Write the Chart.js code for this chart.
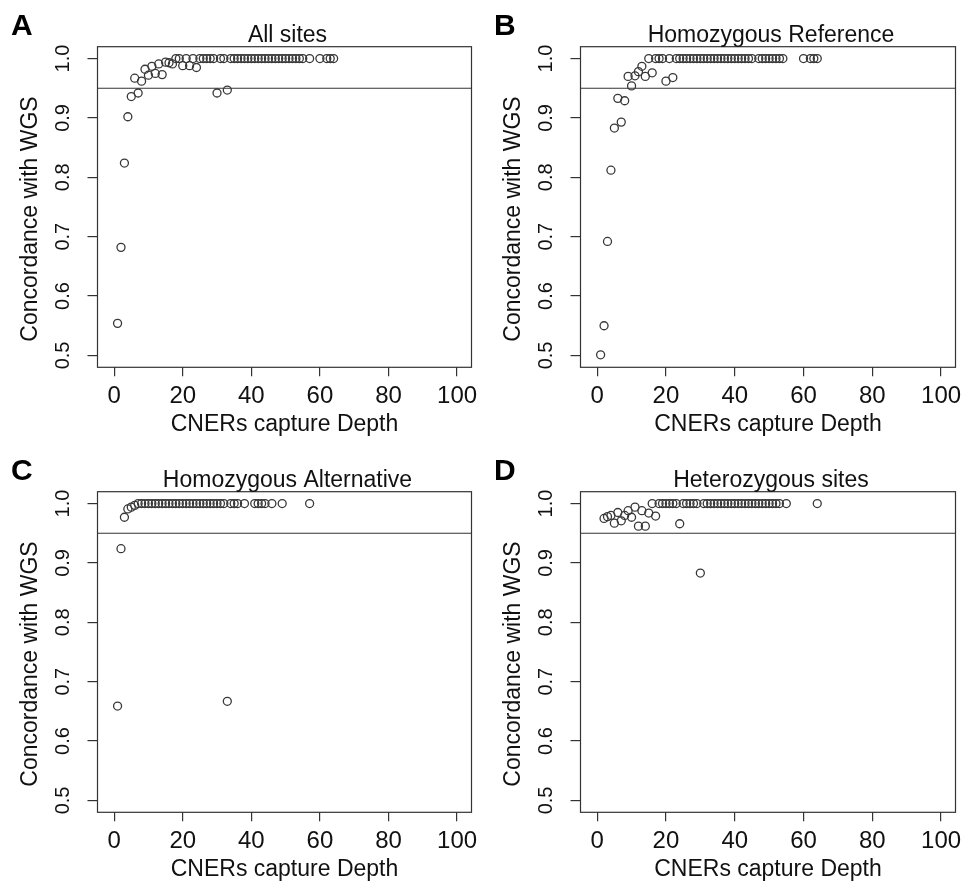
<!DOCTYPE html>
<html><head><meta charset="utf-8">
<script src="https://cdn.jsdelivr.net/npm/chart.js@4.4.1/dist/chart.umd.min.js"></script>
<style>
html,body{margin:0;padding:0;background:#fff;}
#wrap{position:relative;width:967px;height:886px;overflow:hidden;background:#fff;}
canvas{position:absolute;}
</style></head><body><div id="wrap">
<canvas id="cA"></canvas><canvas id="cB"></canvas><canvas id="cC"></canvas><canvas id="cD"></canvas>
</div>
<script>
// ---------------- data ----------------
const panelLetters = ["A", "B", "C", "D"];
const panelTitles = ["All sites", "Homozygous Reference", "Homozygous Alternative", "Heterozygous sites"];
const xTitle = "CNERs capture Depth";
const yTitle = "Concordance with WGS";
const xTicks = [0, 20, 40, 60, 80, 100];
const yTicks = [0.5, 0.6, 0.7, 0.8, 0.9, 1.0];
const xLimits = [-4.85, 104.2];
const yLimits = [0.48, 1.02];
const threshold = 0.95;

const depthA = [1,2,3,4,5,6,7,8,9,10,11,12,13,14,15,16,17,18,19,20,21,22,23,24,25,26,27,28,29,30,31,32,33,34,35,36,37,38,39,40,41,42,43,44,45,46,47,48,49,50,51,52,53,54,55,57,60,62,63,64];
const concA  = [0.554,0.682,0.824,0.902,0.936,0.967,0.942,0.962,0.982,0.972,0.987,0.975,0.991,0.973,0.994,0.993,0.991,1,1,0.988,1,0.988,1,0.985,1,1,1,1,1,0.942,1,1,0.947,1,1,1,1,1,1,1,1,1,1,1,1,1,1,1,1,1,1,1,1,1,1,1,1,1,1,1];

const depthB = [1,2,3,4,5,6,7,8,9,10,11,12,13,14,15,16,17,18,19,20,21,22,23,24,25,26,27,28,29,30,31,32,33,34,35,36,37,38,39,40,41,42,43,44,45,47,48,49,50,51,52,53,54,60,62,63,64];
const concB  = [0.501,0.550,0.692,0.812,0.883,0.933,0.893,0.929,0.970,0.954,0.971,0.978,0.987,0.970,1,0.976,1,1,1,0.962,1,0.968,1,1,1,1,1,1,1,1,1,1,1,1,1,1,1,1,1,1,1,1,1,1,1,1,1,1,1,1,1,1,1,1,1,1,1];

const depthC = [1,2,3,4,5,6,7,8,9,10,11,12,13,14,15,16,17,18,19,20,21,22,23,24,25,26,27,28,29,30,31,32,33,34,35,36,38,41,42,43,44,46,49,57];
const concC  = [0.659,0.924,0.977,0.991,0.994,0.997,1,1,1,1,1,1,1,1,1,1,1,1,1,1,1,1,1,1,1,1,1,1,1,1,1,1,0.667,1,1,1,1,1,1,1,1,1,1,1];

const depthD = [2,3,4,5,6,7,8,9,10,11,12,13,14,15,16,17,18,19,20,21,22,23,24,25,26,27,28,29,30,31,32,33,34,35,36,37,38,39,40,41,42,43,44,45,46,47,48,49,50,51,52,53,55,64];
const concD  = [0.975,0.978,0.980,0.967,0.985,0.971,0.980,0.988,0.977,0.994,0.962,0.988,0.962,0.984,1,0.979,1,1,1,1,1,1,0.966,1,1,1,1,1,0.883,1,1,1,1,1,1,1,1,1,1,1,1,1,1,1,1,1,1,1,1,1,1,1,1,1];

const seriesDepth = [depthA, depthB, depthC, depthD];
const seriesConc = [concA, concB, concC, concD];

// ---------------- layout / style ----------------
const FONT = '"Liberation Sans", Arial, Helvetica, sans-serif';
Chart.defaults.font.family = FONT;
const INK = '#111111';
const LINE = '#333333';
const canvases = [
  {id: 'cA', x: 0,   y: 0,   w: 483, h: 445},
  {id: 'cB', x: 483, y: 0,   w: 484, h: 445},
  {id: 'cC', x: 0,   y: 445, w: 483, h: 441},
  {id: 'cD', x: 483, y: 445, w: 484, h: 441}
];
const plotBox = {left: 97.5, top: 46.7, right: 475.7, bottom: 367.3};
const xAxisHeight = 71.5;

const decor = {
  id: 'decor',
  afterDraw(chart, args, opts) {
    const {ctx, chartArea: a} = chart;
    ctx.save();
    ctx.strokeStyle = LINE;
    ctx.lineWidth = 1.2;
    ctx.strokeRect(a.left, a.top, a.right - a.left, a.bottom - a.top);
    ctx.fillStyle = '#000';
    ctx.font = 'bold 30px ' + FONT;
    ctx.textAlign = 'left';
    ctx.textBaseline = 'alphabetic';
    ctx.fillText(opts.letter, 11, 35);
    ctx.fillStyle = INK;
    ctx.font = '23px ' + FONT;
    ctx.textAlign = 'center';
    ctx.fillText(opts.title, (a.left + a.right) / 2 + 3, a.top - 5);
    ctx.translate(36.7, (a.top + a.bottom) / 2 + 12);
    ctx.rotate(-Math.PI / 2);
    ctx.fillText(yTitle, 0, 0);
    ctx.restore();
  }
};

canvases.forEach((cv, i) => {
  const el = document.getElementById(cv.id);
  el.width = cv.w; el.height = cv.h;
  el.style.left = cv.x + 'px'; el.style.top = cv.y + 'px';
  el.style.width = cv.w + 'px'; el.style.height = cv.h + 'px';
  const pts = seriesDepth[i].map((d, k) => ({x: d, y: seriesConc[i][k]}));
  new Chart(el, {
    type: 'scatter',
    data: {
      datasets: [
        {
          type: 'line',
          data: [{x: xLimits[0], y: threshold}, {x: xLimits[1], y: threshold}],
          borderColor: LINE, borderWidth: 1.2, pointRadius: 0, fill: false, order: 2
        },
        {
          data: pts,
          pointStyle: 'circle', pointRadius: 4, pointBorderWidth: 1.3,
          borderColor: '#383838', backgroundColor: 'rgba(0,0,0,0)',
          pointBackgroundColor: 'rgba(0,0,0,0)', pointBorderColor: '#383838', order: 1
        }
      ]
    },
    options: {
      responsive: false,
      animation: false,
      devicePixelRatio: 1,
      events: [],
      layout: {padding: {left: 0, top: plotBox.top, right: cv.w - plotBox.right, bottom: cv.h - plotBox.bottom - xAxisHeight}},
      plugins: {
        legend: {display: false},
        tooltip: {enabled: false},
        title: {display: false},
        decor: {letter: panelLetters[i], title: panelTitles[i]}
      },
      scales: {
        x: {
          type: 'linear', position: 'bottom', min: xLimits[0], max: xLimits[1],
          afterBuildTicks: s => { s.ticks = xTicks.map(v => ({value: v})); },
          afterFit: s => { s.height = xAxisHeight; },
          grid: {display: true, drawOnChartArea: false, drawTicks: true, tickLength: 9, color: LINE, lineWidth: 1.2},
          border: {display: false},
          ticks: {font: {size: 24}, color: INK, padding: 5.6, autoSkip: false, minRotation: 0, maxRotation: 0,
                  callback: v => String(v)},
          title: {display: true, text: xTitle, font: {size: 23}, color: INK, padding: {top: 0, bottom: 0}}
        },
        y: {
          type: 'linear', position: 'left', min: yLimits[0], max: yLimits[1],
          afterBuildTicks: s => { s.ticks = yTicks.map(v => ({value: v})); },
          afterFit: s => { s.width = plotBox.left; },
          grid: {display: true, drawOnChartArea: false, drawTicks: true, tickLength: 10, color: LINE, lineWidth: 1.2},
          border: {display: false},
          ticks: {font: {size: 20}, color: INK, padding: 10.3, autoSkip: false, minRotation: 90, maxRotation: 90,
                  crossAlign: 'center', callback: v => Number(v).toFixed(1)},
          title: {display: false}
        }
      }
    },
    plugins: [decor]
  });
});
</script>
</body></html>
